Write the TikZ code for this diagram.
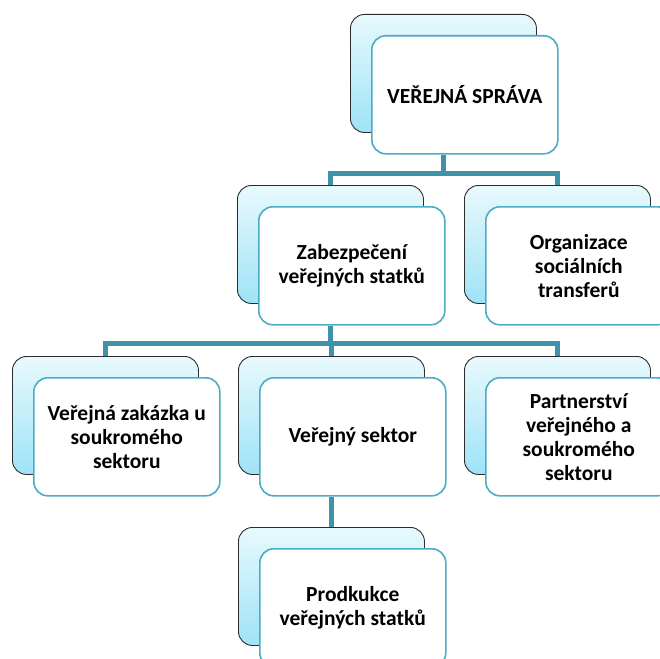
\documentclass[tikz,border=0pt]{standalone}
\usepackage{fontspec}
\setmainfont{Carlito}
\usepackage{color}

\definecolor{linkcol}{RGB}{64,146,171}
\definecolor{frameblue}{RGB}{75,172,198}
\definecolor{backtop}{RGB}{232,249,253}
\definecolor{backbot}{RGB}{158,227,247}
\definecolor{backline}{RGB}{45,45,45}

\begin{document}
\begin{tikzpicture}[x=1pt,y=-1pt,line join=miter,
    backbox/.style={draw=backline,line width=0.9pt,rounded corners=14pt,top color=backtop,bottom color=backbot,minimum width=186pt,minimum height=118pt,anchor=north west,inner sep=0pt},
    frontbox/.style={draw=frameblue,line width=1.6pt,fill=white,rounded corners=14pt,minimum width=186pt,minimum height=118pt,anchor=north west,align=center,inner sep=2pt,font=\fontsize{21.5}{24}\selectfont\bfseries},
    link/.style={draw=linkcol,line width=5pt}]
    \useasboundingbox (0,0) rectangle (660,658);
    \clip (0,0) rectangle (660,658);
    % back cards
    \foreach \n/\x/\y in {spravab/350/14,zabezb/237/185,organb/464/185,zakazb/12/356,verejb/238/356,partb/464/356,prodb/238/527}
    \node[backbox] (\n) at (\x,\y) {};
    % front cards
    \node[frontbox] (sprava) at (371,35) {VEŘEJNÁ SPRÁVA};
    \node[frontbox] (zabez) at (258,206) {Zabezpečení\\veřejných statků};
    \node[frontbox] (organ) at (485,206) {Organizace\\sociálních\\transferů};
    \node[frontbox] (zakaz) at (33,377) {Veřejná zakázka u\\soukromého\\sektoru};
    \node[frontbox] (verej) at (259,377) {Veřejný sektor};
    \node[frontbox] (part) at (485,377) {Partnerství\\veřejného a\\soukromého\\sektoru};
    \node[frontbox] (prod) at (259,548) {Prodkukce\\veřejných statků};
    % connectors
    \foreach \c in {zabezb,organb}
    \draw[link] (spravab.center |- sprava.south) -- ++(0,19) -| (\c.north);
    \foreach \c in {zakazb,verejb,partb}
    \draw[link] (zabezb.center |- zabez.south) -- ++(0,18) -| (\c.north);
    \draw[link] (verejb.center |- verej.south) -- (prodb.north);
\end{tikzpicture}
\end{document}
